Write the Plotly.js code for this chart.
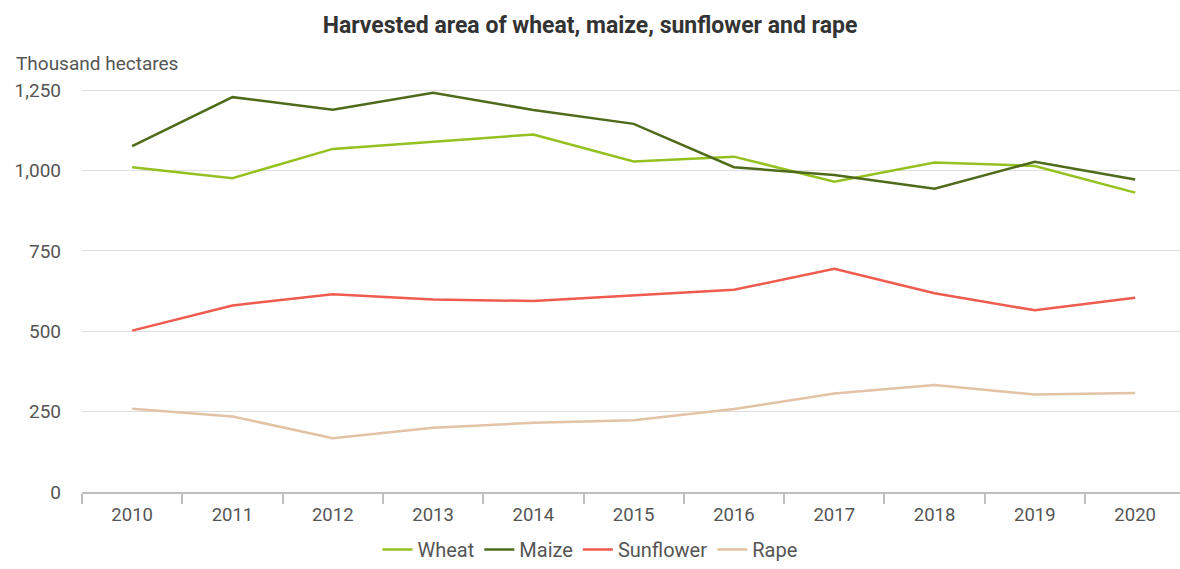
<!DOCTYPE html>
<html>
<head>
<meta charset="utf-8">
<script src="https://cdn.plot.ly/plotly-3.0.1.min.js"></script>
<style>
html,body{margin:0;padding:0;background:#fff;overflow:hidden;}
#chart{width:1180px;height:569px;}
</style>
</head>
<body>
<div id="chart"></div>
<script>
const years = ["2010","2011","2012","2013","2014","2015","2016","2017","2018","2019","2020"];
const wheat = [1010, 976, 1067, 1090, 1112, 1028, 1043, 965, 1025, 1014, 931];
const maize = [1076, 1228, 1189, 1242, 1188, 1145, 1010, 986, 943, 1027, 972];
const sunflower = [502, 580, 615, 599, 594, 612, 629, 694, 618, 565, 604];
const rape = [259, 235, 167, 200, 215, 223, 258, 306, 333, 303, 308];

const seriesNames = ["Wheat", "Maize", "Sunflower", "Rape"];
const seriesData = [wheat, maize, sunflower, rape];
const seriesColors = ["#94c11f", "#4e6b1b", "#ef5b4f", "#e2c3a6"];

const traces = seriesNames.map((name, i) => ({
  type: "scatter",
  mode: "lines",
  name: name,
  x: years,
  y: seriesData[i],
  line: {color: seriesColors[i], width: 2.5},
  hoverinfo: "x+y+name"
}));

const layout = {
  width: 1180,
  height: 569,
  margin: {l: 82, r: 0, t: 74, b: 77},
  paper_bgcolor: "#ffffff",
  plot_bgcolor: "#ffffff",
  font: {family: "Roboto, sans-serif", color: "#555555", size: 19},
  title: {
    text: "<b>Harvested area of wheat, maize, sunflower and rape</b>",
    font: {family: "Roboto, sans-serif", size: 23, color: "#333333"},
    x: 0.5, xanchor: "center", xref: "container",
    y: 1 - 25/569, yanchor: "middle", yref: "container"
  },
  xaxis: {
    type: "category",
    tickson: "boundaries",
    ticks: "outside",
    ticklen: 10,
    tickwidth: 1.5,
    tickcolor: "#bfbfbf",
    showline: true,
    linecolor: "#bfbfbf",
    linewidth: 1.5,
    showgrid: false,
    range: [-0.5, 10.447],
    ticklabelstandoff: 5,
    tickfont: {size: 18.5, color: "#555555"},
    fixedrange: true
  },
  yaxis: {
    range: [0, 1300],
    tickvals: [0, 250, 500, 750, 1000, 1250],
    tickformat: ",",
    showgrid: true,
    gridcolor: "#dedede",
    gridwidth: 1,
    zeroline: false,
    showline: false,
    ticks: "",
    ticklabelstandoff: 20,
    tickfont: {size: 19, color: "#555555"},
    fixedrange: true
  },
  showlegend: true,
  legend: {
    orientation: "h",
    xref: "container", x: 0.5, xanchor: "center",
    yref: "container", y: -0.01, yanchor: "bottom",
    font: {size: 20, color: "#555555"},
    itemwidth: 30,
    traceorder: "normal"
  },
  annotations: [{
    text: "Thousand hectares",
    xref: "paper", x: -68/1098, xanchor: "left",
    yref: "paper", y: 1, yanchor: "middle", yshift: 11,
    showarrow: false,
    font: {size: 19, color: "#555555"}
  }]
};

Plotly.newPlot("chart", traces, layout, {displayModeBar: false, staticPlot: false});
</script>
</body>
</html>
